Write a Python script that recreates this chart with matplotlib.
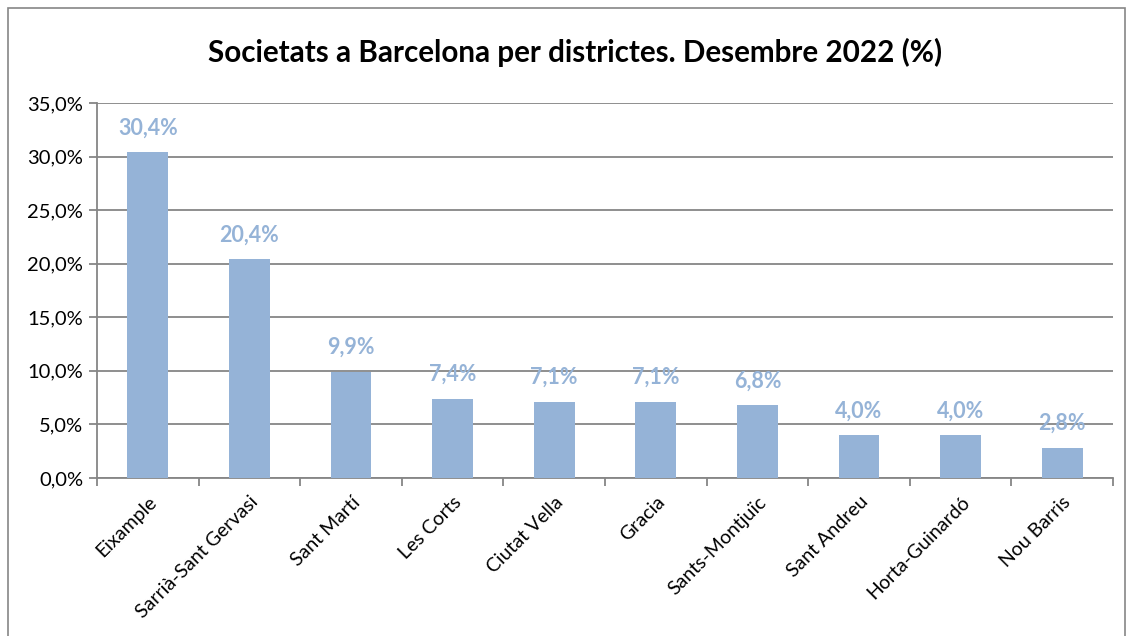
import matplotlib.pyplot as plt
from matplotlib.patches import Rectangle
from matplotlib.ticker import FuncFormatter, MultipleLocator, FixedLocator

# Data
districtes = ["Eixample", "Sarrià-Sant Gervasi", "Sant Martí", "Les Corts",
              "Ciutat Vella", "Gracia", "Sants-Montjuïc", "Sant Andreu",
              "Horta-Guinardó", "Nou Barris"]
percentatge = [30.4, 20.4, 9.9, 7.4, 7.1, 7.1, 6.8, 4.0, 4.0, 2.8]

bar_color = "#95B3D7"
grid_color = "#868686"

plt.rcParams["font.family"] = ["Lato", "DejaVu Sans"]

fig = plt.figure(figsize=(11.31, 6.36), dpi=100)
ax = fig.add_axes([97 / 1131, 1 - 478 / 636, (1113 - 97) / 1131, (478 - 103) / 636])

x = list(range(len(districtes)))
ax.bar(x, percentatge, width=0.4, color=bar_color, zorder=3)

for xi, v in zip(x, percentatge):
    ax.text(xi, v + 1.3, f"{v:.1f}%".replace(".", ","), ha="center", va="bottom",
            color=bar_color, fontsize=15.5, fontweight="bold", zorder=4)

ax.set_xlim(-0.5, len(districtes) - 0.5)
ax.set_ylim(0, 35)
ax.yaxis.set_major_locator(MultipleLocator(5))
ax.yaxis.set_major_formatter(FuncFormatter(lambda v, p: f"{v:.1f}%".replace(".", ",")))
ax.grid(axis="y", color=grid_color, linewidth=1.3, zorder=0)

ax.set_xticks(x)
ax.set_xticklabels(districtes, rotation=45, ha="right", rotation_mode="anchor", fontsize=14)
ax.tick_params(axis="x", which="major", length=0, pad=11)
ax.xaxis.set_minor_locator(FixedLocator([i + 0.5 for i in range(-1, len(districtes))]))
ax.tick_params(axis="x", which="minor", length=6, color=grid_color, width=1.3)
ax.tick_params(axis="y", labelsize=14.5, length=6, color=grid_color, width=1.3, pad=4)

for side in ["top", "right"]:
    ax.spines[side].set_visible(False)
for side in ["left", "bottom"]:
    ax.spines[side].set_color(grid_color)
    ax.spines[side].set_linewidth(1.3)

fig.text(575 / 1131, 1 - 52 / 636, "Societats a Barcelona per districtes. Desembre 2022 (%)",
         ha="center", va="center", fontsize=21.3, fontweight="bold")

fig.patches.append(Rectangle((8 / 1131, -0.05), (1125 - 8) / 1131, 1 - 8 / 636 + 0.05,
                             transform=fig.transFigure, fill=False,
                             edgecolor="#868686", linewidth=1.2))

fig.savefig("out.png", dpi=100)
